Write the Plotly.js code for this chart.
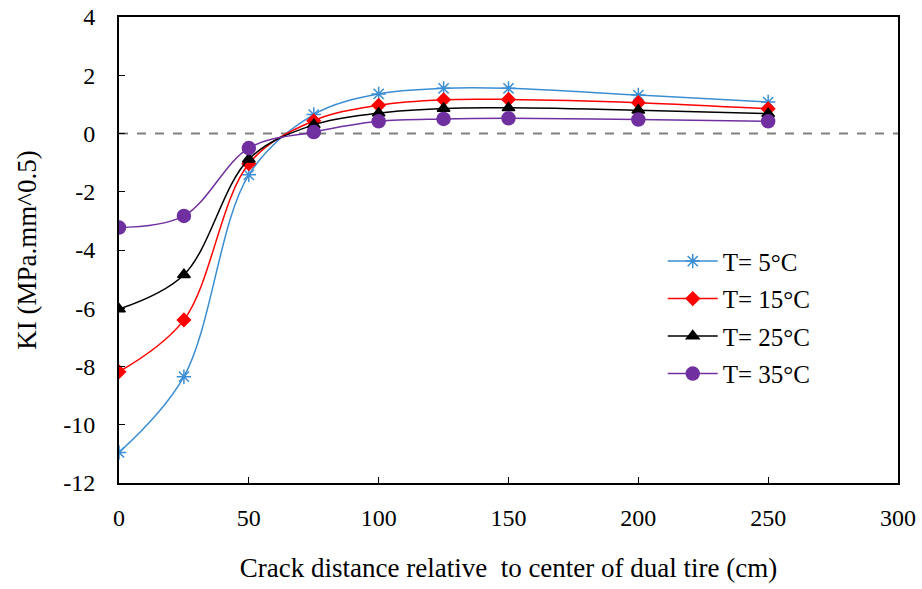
<!DOCTYPE html>
<html>
<head>
<meta charset="utf-8">
<script src="https://cdn.plot.ly/plotly-3.0.1.min.js"></script>
<style>body{margin:0;background:#fff}#chart{width:922px;height:589px}</style>
</head>
<body>
<div id="chart"></div>
<script>
const distance = [0, 25, 50, 75, 100, 125, 150, 200, 250];
const seriesNames = ["T= 5°C", "T= 15°C", "T= 25°C", "T= 35°C"];
const kiT5  = [-10.95, -8.35, -1.42, 0.65, 1.36, 1.55, 1.55, 1.32, 1.08];
const kiT15 = [-8.18, -6.4, -1.04, 0.44, 0.97, 1.16, 1.17, 1.06, 0.85];
const kiT25 = [-6.03, -4.85, -0.88, 0.3, 0.7, 0.86, 0.88, 0.8, 0.68];
const kiT35 = [-3.23, -2.83, -0.5, 0.05, 0.42, 0.5, 0.52, 0.48, 0.42];
const xTicks = [0, 50, 100, 150, 200, 250, 300];
const yTicks = [4, 2, 0, -2, -4, -6, -8, -10, -12];

const colors = ["#3B8ED3", "#FF0000", "#000000", "#7030A0"];
const symbols = ["asterisk-open", "diamond", "triangle-up", "circle"];
const sizes = [12, 10, 11, 13];
const allY = [kiT5, kiT15, kiT25, kiT35];

const traces = allY.map((ys, i) => ({
  x: distance, y: ys, name: seriesNames[i], type: "scatter", mode: "lines+markers",
  legendgroup: "g" + i,
  line: {color: colors[i], width: 1.5, shape: "spline", smoothing: 1},
  marker: {color: colors[i], symbol: symbols[i], size: sizes[i], line: {color: colors[i], width: 1.5}}
}));

const font = "'Liberation Serif', 'Times New Roman', serif";
const layout = {
  width: 922, height: 589,
  margin: {l: 119, r: 24, t: 17, b: 106},
  paper_bgcolor: "#fff", plot_bgcolor: "#fff",
  font: {family: font, size: 24, color: "#000"},
  showlegend: true,
  legend: {x: 0.698, y: 0.525, xanchor: "left", yanchor: "top", bgcolor: "rgba(0,0,0,0)",
           font: {family: font, size: 25, color: "#000"}, tracegroupgap: 2, traceorder: "grouped", itemwidth: 50},
  xaxis: {range: [0, 300], tickvals: xTicks, ticktext: xTicks.map(String), ticks: "inside", ticklen: 6,
          tickcolor: "#000", showline: true, linecolor: "#000", linewidth: 2, mirror: true,
          showgrid: false, zeroline: false, ticklabelstandoff: 12, tickfont: {size: 24},
          title: {text: "Crack distance relative  to center of dual tire (cm)", font: {size: 27}, standoff: 28}},
  yaxis: {range: [-12, 4], tickvals: yTicks, ticktext: yTicks.map(String), ticks: "inside", ticklen: 6,
          tickcolor: "#000", showline: true, linecolor: "#000", linewidth: 2, mirror: true,
          showgrid: false, zeroline: false, ticklabelstandoff: 17, tickfont: {size: 24},
          title: {text: "KI (MPa.mm^0.5)", font: {size: 27}, standoff: 19}},
  shapes: [{type: "line", xref: "paper", x0: 0, x1: 1, yref: "y", y0: 0, y1: 0,
            line: {color: "#808080", width: 2, dash: "dash"}, layer: "below"}]
};
Plotly.newPlot("chart", traces, layout, {displayModeBar: false, staticPlot: true});
</script>
</body>
</html>
